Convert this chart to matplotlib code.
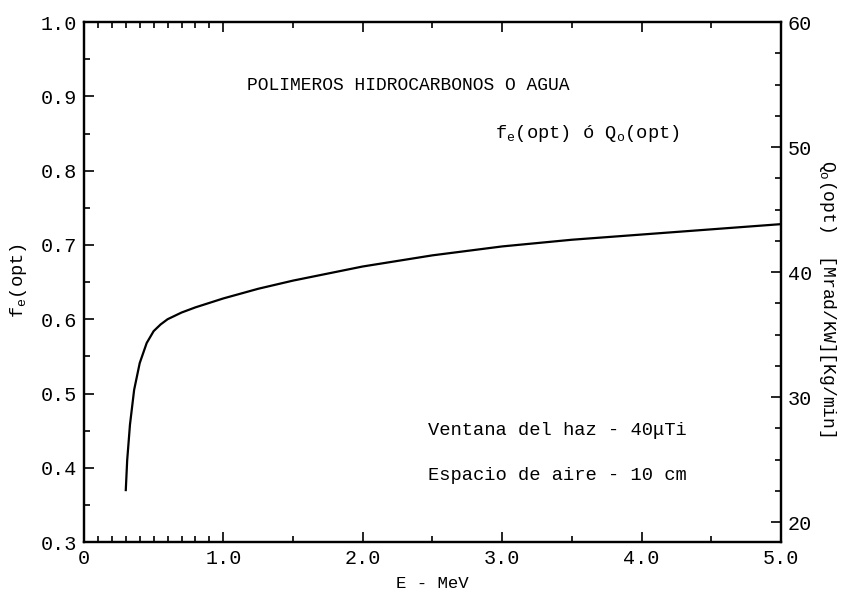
import numpy as np
import matplotlib
matplotlib.use("Agg")
import matplotlib.pyplot as plt
from matplotlib.ticker import FixedLocator, MultipleLocator

# curve f_e(opt) vs E
energy = [0.30, 0.31, 0.33, 0.36, 0.40, 0.45, 0.50, 0.55, 0.60, 0.70, 0.80,
          1.00, 1.25, 1.50, 2.00, 2.50, 3.00, 3.50, 4.00, 4.50, 5.00]
fe_opt = [0.370, 0.410, 0.458, 0.505, 0.541, 0.568, 0.584, 0.593, 0.600, 0.609, 0.616,
          0.628, 0.641, 0.652, 0.671, 0.686, 0.698, 0.707, 0.714, 0.721, 0.728]

x_ticks = [0, 1, 2, 3, 4, 5]
x_labels = ["0", "1.0", "2.0", "3.0", "4.0", "5.0"]
x_minor = [0.1, 0.2, 0.3, 0.4, 0.5, 0.6, 0.7, 0.8, 0.9, 1.5, 2.5, 3.5, 4.5]
left_ticks = [0.3, 0.4, 0.5, 0.6, 0.7, 0.8, 0.9, 1.0]
right_ticks = [20, 30, 40, 50, 60]

plt.rcParams['font.family'] = ['Liberation Mono', 'DejaVu Sans Mono']
plt.rcParams['mathtext.fontset'] = 'custom'
plt.rcParams['mathtext.rm'] = 'Liberation Mono'
plt.rcParams['mathtext.it'] = 'Liberation Mono'

fig = plt.figure(figsize=(8.43, 5.97), dpi=100)
ax = fig.add_axes([0.0996, 0.092, 0.8268, 0.871])

ax.plot(energy, fe_opt, color='black', lw=1.6)

ax.set_xlim(0, 5)
ax.set_ylim(0.3, 1.0)
ax.set_xticks(x_ticks)
ax.set_xticklabels(x_labels)
ax.xaxis.set_minor_locator(FixedLocator(x_minor))
ax.set_yticks(left_ticks)
ax.set_yticklabels(["%.1f" % v for v in left_ticks])
ax.yaxis.set_minor_locator(MultipleLocator(0.05))
ax.tick_params(which='both', direction='in', top=True, width=1.2, labelsize=14.5)
ax.tick_params(which='major', length=7, pad=5)
ax.tick_params(which='minor', length=4)
for s in ax.spines.values():
    s.set_linewidth(1.6)

# right scale: Q_o(opt)
ax2 = ax.twinx()
ax2.set_ylim(18.4, 60)
ax2.set_yticks(right_ticks)
ax2.yaxis.set_minor_locator(MultipleLocator(2.5))
ax2.tick_params(which='both', direction='in', width=1.2, labelsize=14.5)
ax2.tick_params(which='major', length=7, pad=5)
ax2.tick_params(which='minor', length=4)
for s in ax2.spines.values():
    s.set_linewidth(1.6)

ax.set_xlabel("E - MeV", fontsize=12.5, labelpad=6)
fig.text(0.022, 0.53, "f$_\\mathrm{e}$(opt)", rotation=90, fontsize=13.5,
         ha='center', va='center')
fig.text(0.982, 0.50, "Q$_\\mathrm{o}$(opt)  [Mrad/KW][Kg/min]", rotation=270,
         fontsize=13, ha='center', va='center')

ax.text(1.17, 0.915, "POLIMEROS HIDROCARBONOS O AGUA", fontsize=13, va='center')
ax.text(2.95, 0.85, "f$_\\mathrm{e}$(opt) \u00f3 Q$_\\mathrm{o}$(opt)", fontsize=13.5, va='center')
ax.text(2.47, 0.45, "Ventana del haz - 40\u03bcTi", fontsize=13.5, va='center')
ax.text(2.47, 0.39, "Espacio de aire - 10 cm", fontsize=13.5, va='center')

fig.savefig("out.png", dpi=100)
